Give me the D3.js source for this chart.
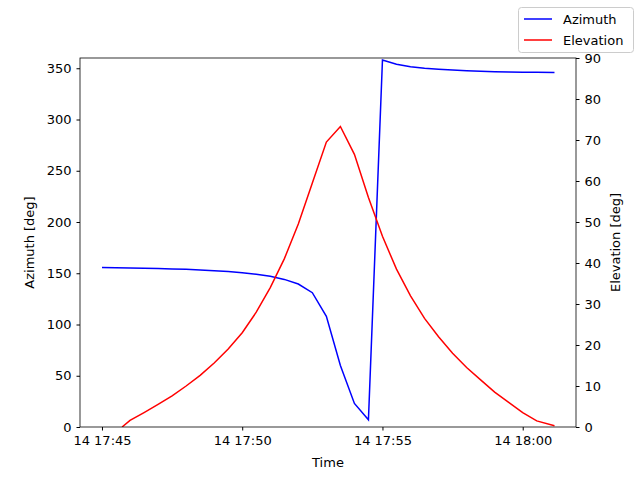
<!DOCTYPE html><html><head><meta charset="utf-8"><script src="https://cdn.jsdelivr.net/npm/d3@7"></script>
<style>body{margin:0;background:#fff}text{font-family:"DejaVu Sans",sans-serif;font-size:13px}</style></head><body><svg id="c" width="640" height="480"></svg>
<script>
const azTimes=["17:45:00","17:45:30","17:46:00","17:46:30","17:47:00","17:47:30","17:48:00","17:48:30","17:49:00","17:49:30","17:50:00","17:50:30","17:51:00","17:51:30","17:52:00","17:52:30","17:53:00","17:53:30","17:54:00","17:54:30","17:55:00","17:55:30","17:56:00","17:56:30","17:57:00","17:57:30","17:58:00","17:58:30","17:59:00","17:59:30","18:00:00","18:00:30","18:01:08"];
const azimuth=[155.5,155.3,155.1,154.9,154.6,154.2,153.8,153.2,152.5,151.6,150.5,149,147,144,139.5,131,108,60,23,7,358,354,351.5,350,349,348.2,347.6,347.1,346.7,346.4,346.2,346,345.8];
const elTimes=["17:45:43","17:46:00","17:46:30","17:47:00","17:47:30","17:48:00","17:48:30","17:49:00","17:49:30","17:50:00","17:50:30","17:51:00","17:51:30","17:52:00","17:52:30","17:53:00","17:53:30","17:54:00","17:54:30","17:55:00","17:55:30","17:56:00","17:56:30","17:57:00","17:57:30","17:58:00","17:58:30","17:59:00","17:59:30","18:00:00","18:00:30","18:01:08"];
const elevation=[0,1.6,3.5,5.5,7.6,10,12.6,15.6,19,23,28,34,41,49.5,59.5,69.5,73.3,66.5,56,46.5,38.5,32,26.5,22,18,14.5,11.5,8.5,6,3.5,1.5,0.3];
const xTicks=["17:45:00","17:50:00","17:55:00","18:00:00"];
const azTicks=[0,50,100,150,200,250,300,350], elTicks=[0,10,20,30,40,50,60,70,80,90];
const p=t=>new Date("2024-01-14T"+t);
const m={l:80,r:576,t:58,b:427};
const svg=d3.select("#c");
const x=d3.scaleTime().domain([p("17:44:13"),p("18:01:54")]).range([m.l,m.r]);
const yL=d3.scaleLinear().domain([0,360]).range([m.b,m.t]);
const yR=d3.scaleLinear().domain([0,90]).range([m.b,m.t]);
const fmt=d3.timeFormat("%d %H:%M");
svg.append("g").attr("transform",`translate(0,${m.b})`).call(d3.axisBottom(x).tickValues(xTicks.map(p)).tickFormat(fmt).tickSizeOuter(0).tickSize(3.5).tickPadding(5));
svg.append("g").attr("transform",`translate(${m.l},0)`).call(d3.axisLeft(yL).tickValues(azTicks).tickSizeOuter(0).tickSize(3.5).tickPadding(5));
svg.append("g").attr("transform",`translate(${m.r},0)`).call(d3.axisRight(yR).tickValues(elTicks).tickSizeOuter(0).tickSize(3.5).tickPadding(5));
svg.selectAll(".domain").remove();
svg.selectAll(".tick text").attr("fill","#000").style("font-size","13px");
svg.selectAll(".tick line").attr("stroke","#000");
svg.append("g").attr("clip-path","url(#cp)");
svg.append("clipPath").attr("id","cp").append("rect").attr("x",m.l).attr("y",m.t).attr("width",m.r-m.l).attr("height",m.b-m.t);
svg.append("path").attr("clip-path","url(#cp)").attr("d",d3.line().x((d,i)=>x(p(azTimes[i]))).y(d=>yL(d))(azimuth)).attr("fill","none").attr("stroke","blue").attr("stroke-width",1.5);
svg.append("path").attr("clip-path","url(#cp)").attr("d",d3.line().x((d,i)=>x(p(elTimes[i]))).y(d=>yR(d))(elevation)).attr("fill","none").attr("stroke","red").attr("stroke-width",1.5);
svg.append("rect").attr("x",m.l).attr("y",m.t).attr("width",m.r-m.l).attr("height",m.b-m.t).attr("fill","none").attr("stroke","#000").attr("stroke-width",0.8);
svg.append("text").attr("x",(m.l+m.r)/2).attr("y",467).attr("text-anchor","middle").text("Time");
svg.append("text").attr("transform",`translate(34,${(m.t+m.b)/2}) rotate(-90)`).attr("text-anchor","middle").text("Azimuth [deg]");
svg.append("text").attr("transform",`translate(620,${(m.t+m.b)/2}) rotate(-90)`).attr("text-anchor","middle").text("Elevation [deg]");
const lg=svg.append("g");
lg.append("rect").attr("x",518.5).attr("y",7.5).attr("width",115).attr("height",45).attr("rx",3).attr("fill","#fff").attr("stroke","#ccc");
[["Azimuth","blue"],["Elevation","red"]].forEach(([n,c],i)=>{const y=19+i*21;
lg.append("line").attr("x1",524).attr("x2",552).attr("y1",y).attr("y2",y).attr("stroke",c).attr("stroke-width",1.5);
lg.append("text").attr("x",563).attr("y",y+4.5).text(n);});
</script></body></html>
